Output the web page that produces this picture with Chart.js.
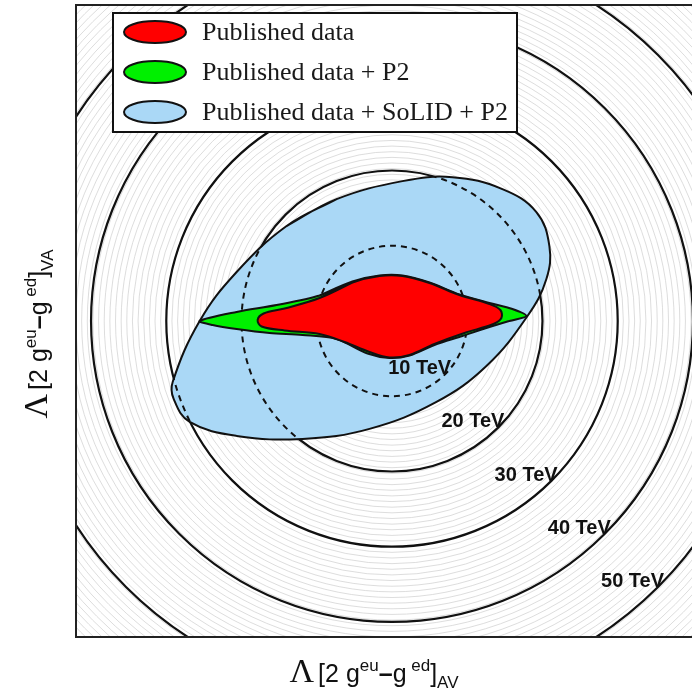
<!DOCTYPE html>
<html><head><meta charset="utf-8">
<script src="https://cdn.jsdelivr.net/npm/chart.js@4/dist/chart.umd.min.js"></script>
<style>html,body{margin:0;padding:0;overflow:hidden;background:#fff;width:692px;height:697px}canvas{display:block}</style>
</head><body>
<canvas id="c" width="712" height="697"></canvas>
<script>
// ---- data (units: TeV-equivalent, centre of plot = 0) ----
const seriesNames = ['Published data', 'Published data + P2', 'Published data + SoLID + P2'];
const seriesColors = ['#ff0000', '#00f000', '#aad8f6'];

const publishedX = [-9.63, -5.25, -1.66, 1.39, 4.98, 8.96, 12.95, 14.41, 14.54, 13.48, 9.63, 5.64, 2.32, -0.33, -2.99, -6.31, -9.63, -14.28, -17.33, -17.86, -17.07, -14.28];
const publishedY = [3.05, 5.11, 5.98, 5.98, 5.05, 3.45, 2.26, 1.46, 0.40, -0.40, -1.59, -3.05, -4.52, -4.85, -4.12, -2.79, -1.73, -1.26, -0.73, 0.13, 1.00, 1.66];

const p2X = [-9.63, -5.25, -1.66, 1.39, 4.98, 8.96, 12.95, 16.00, 17.86, 15.60, 12.55, 9.36, 5.64, 2.32, -0.33, -3.25, -7.37, -11.89, -16.27, -20.65, -23.84, -25.56, -20.65, -15.34];
const p2Y = [3.39, 5.25, 6.04, 6.04, 5.11, 3.52, 2.39, 1.59, 0.66, 0.00, -0.93, -1.99, -3.19, -4.58, -4.91, -4.32, -2.39, -1.86, -1.59, -1.06, -0.53, 0.00, 1.20, 2.12];

const solidP2X = [-14.01, -7.37, 1.39, 8.03, 14.67, 19.19, 20.92, 20.52, 18.01, 12.55, 5.91, -2.99, -11.89, -20.65, -26.89, -29.02, -29.15, -25.56, -20.65];
const solidP2Y = [12.62, 16.20, 18.59, 19.12, 17.53, 14.48, 9.96, 5.58, 0.66, -5.98, -10.76, -14.34, -15.67, -15.27, -13.41, -10.36, -8.10, 0.00, 6.51];

const scaleTeV = [10, 20, 30, 40, 50];
const scaleLabels = ['10 TeV', '20 TeV', '30 TeV', '40 TeV', '50 TeV'];
const axisMin = -42, axisMax = 42;
const fineStep = 0.75;

function closedShape(xs, ys) {
  const pts = xs.map((v, i) => ({x: v, y: ys[i]}));
  return pts.concat(pts.slice(0, 2));
}

function drawRich(ctx, parts, x, y, rot) {
  ctx.save();
  ctx.translate(x, y);
  ctx.rotate(rot);
  ctx.textBaseline = 'alphabetic';
  ctx.textAlign = 'left';
  let w = 0;
  parts.forEach(p => { ctx.font = p.f; w += ctx.measureText(p.t).width + (p.g || 0); });
  let cur = -w / 2;
  parts.forEach(p => { ctx.font = p.f; ctx.fillStyle = '#111'; ctx.fillText(p.t, cur, p.dy || 0); cur += ctx.measureText(p.t).width + (p.g || 0); });
  ctx.restore();
}

const SANS = '"Liberation Sans", Arial, sans-serif';
const SERIF = '"Liberation Serif", "Times New Roman", serif';

function titleParts(sub) {
  return [
    {t: 'Λ', f: '34px ' + SERIF, g: 4},
    {t: '[2 g', f: '25px ' + SANS},
    {t: 'eu', f: '17px ' + SANS, dy: -11},
    {t: '\u2013', f: 'bold 25px ' + SANS},
    {t: 'g', f: '25px ' + SANS},
    {t: ' ed', f: '17px ' + SANS, dy: -11},
    {t: ']', f: '25px ' + SANS},
    {t: sub, f: '17px ' + SANS, dy: 6}
  ];
}

const overlay = {
  id: 'overlay',
  beforeDatasetsDraw(chart) {
    const {ctx, chartArea: a, scales: {x, y}} = chart;
    const cx = x.getPixelForValue(0), cy = y.getPixelForValue(0);
    const unit = x.getPixelForValue(1) - cx;
    ctx.save();
    ctx.beginPath(); ctx.rect(a.left, a.top, a.right - a.left, a.bottom - a.top); ctx.clip();
    ctx.strokeStyle = '#cfcfcf'; ctx.lineWidth = 0.7;
    for (let r = fineStep; r < 62; r += fineStep) {
      ctx.beginPath(); ctx.arc(cx, cy, r * unit, 0, Math.PI * 2); ctx.stroke();
    }
    ctx.strokeStyle = '#111'; ctx.lineWidth = 2.2;
    scaleTeV.forEach(r => { ctx.beginPath(); ctx.arc(cx, cy, r * unit, 0, Math.PI * 2); ctx.stroke(); });
    ctx.restore();
  },
  afterDatasetDraw(chart, args) {
    if (args.index !== 2) return;
    const {ctx, scales: {x, y}} = chart;
    const cx = x.getPixelForValue(0), cy = y.getPixelForValue(0);
    const unit = x.getPixelForValue(1) - cx;
    ctx.save();
    ctx.beginPath();
    let ok = false;
    try { args.meta.dataset.path(ctx); ok = true; } catch (e) { ok = false; }
    if (!ok) {
      ctx.beginPath();
      args.meta.data.forEach((p, i) => i ? ctx.lineTo(p.x, p.y) : ctx.moveTo(p.x, p.y));
    }
    ctx.closePath();
    ctx.clip();
    ctx.strokeStyle = '#111'; ctx.lineWidth = 2; ctx.setLineDash([6, 5]);
    scaleTeV.forEach(r => { ctx.beginPath(); ctx.arc(cx, cy, r * unit, 0, Math.PI * 2); ctx.stroke(); });
    ctx.restore();
  },
  afterDatasetsDraw(chart) {
    const {ctx, scales: {x, y}} = chart;
    ctx.save();
    ctx.font = 'bold 20px ' + SANS;
    ctx.fillStyle = '#111';
    ctx.textAlign = 'right';
    ctx.textBaseline = 'alphabetic';
    scaleTeV.forEach((r, i) => {
      const d = r * Math.SQRT1_2;
      ctx.fillText(scaleLabels[i], x.getPixelForValue(d) + 6, y.getPixelForValue(-d));
    });
    ctx.restore();
  },
  afterDraw(chart) {
    const {ctx, chartArea: a} = chart;
    ctx.save();
    ctx.strokeStyle = '#222'; ctx.lineWidth = 2;
    ctx.strokeRect(a.left, a.top, a.right - a.left, a.bottom - a.top);
    const lx = 113, ly = 13, lw = 404, lh = 119;
    ctx.fillStyle = '#fff'; ctx.fillRect(lx, ly, lw, lh);
    ctx.strokeStyle = '#111'; ctx.lineWidth = 2; ctx.strokeRect(lx, ly, lw, lh);
    chart.data.datasets.forEach((ds, i) => {
      const cyy = ly + 19 + i * 40;
      ctx.beginPath(); ctx.ellipse(lx + 42, cyy, 31, 11, 0, 0, Math.PI * 2);
      ctx.fillStyle = ds.backgroundColor; ctx.fill();
      ctx.lineWidth = 2; ctx.strokeStyle = '#111'; ctx.stroke();
      ctx.fillStyle = '#1a1a1a'; ctx.font = '26px ' + SERIF;
      ctx.textAlign = 'left'; ctx.textBaseline = 'middle';
      ctx.fillText(ds.label, lx + 89, cyy + 1);
    });
    drawRich(ctx, titleParts('AV'), 374, 682, 0);
    drawRich(ctx, titleParts('VA'), 47, 334, -Math.PI / 2);
    ctx.restore();
  }
};

const mk = (i, xs, ys, tension) => ({
  label: seriesNames[i],
  data: closedShape(xs, ys),
  showLine: true,
  fill: 'shape',
  backgroundColor: seriesColors[i],
  borderColor: '#111',
  borderWidth: 2,
  pointRadius: 0,
  tension: tension
});

new Chart(document.getElementById('c'), {
  type: 'scatter',
  data: {
    datasets: [
      mk(0, publishedX, publishedY, 0.35),
      mk(1, p2X, p2Y, 0.3),
      mk(2, solidP2X, solidP2Y, 0.4)
    ]
  },
  options: {
    responsive: false,
    animation: false,
    devicePixelRatio: 1,
    layout: {padding: {left: 76, top: 5, right: 4, bottom: 60}},
    scales: {
      x: {type: 'linear', min: axisMin, max: axisMax, display: false},
      y: {type: 'linear', min: axisMin, max: axisMax, display: false}
    },
    plugins: {legend: {display: false}, tooltip: {enabled: false}}
  },
  plugins: [overlay]
});
</script>
</body></html>
